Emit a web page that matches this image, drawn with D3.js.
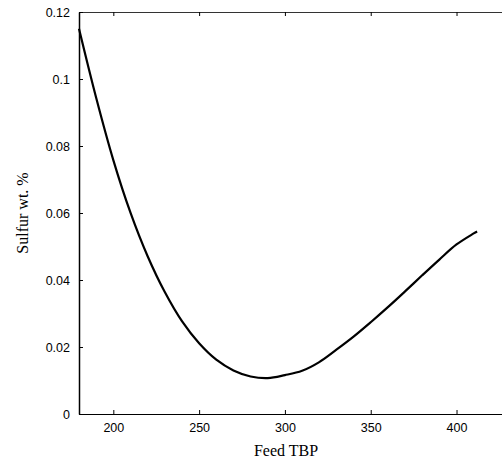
<!DOCTYPE html>
<html>
<head>
<meta charset="utf-8">
<script src="https://cdn.jsdelivr.net/npm/d3@7"></script>
<style>
  body { margin: 0; background: #fff; }
  svg { display: block; }
</style>
</head>
<body>
<div id="chart"></div>
<script>
// Feed TBP vs sulfur content
var feedTBP = [180, 190, 200, 210, 220, 230, 240, 250, 260, 270, 280, 290,
               300, 310, 320, 330, 340, 350, 360, 370, 380, 390, 400, 410, 412];
var sulfur = [0.1150, 0.0944, 0.0758, 0.0601, 0.0471, 0.0364, 0.0277, 0.0211,
              0.0162, 0.0130, 0.0112, 0.0107, 0.0116, 0.0129, 0.0155, 0.0192,
              0.0231, 0.0274, 0.0319, 0.0366, 0.0414, 0.0461, 0.0506, 0.0539, 0.0545];
var xTicks = [200, 250, 300, 350, 400];
var yTicks = [0, 0.02, 0.04, 0.06, 0.08, 0.1, 0.12];

var W = 502, H = 463;
var plotLeft = 79, plotTop = 12, plotBottom = 414;

var x = d3.scaleLinear().domain([180, 430]).range([plotLeft, plotLeft + 250 * 1.716]);
var y = d3.scaleLinear().domain([0, 0.12]).range([plotBottom, plotTop]);

var svg = d3.select('#chart').append('svg')
    .attr('width', W)
    .attr('height', H);

var tickFont = 'Liberation Sans, Arial, sans-serif';

// bottom axis (ticks inward)
var gx = svg.append('g')
    .attr('transform', 'translate(0,' + plotBottom + ')')
    .call(d3.axisBottom(x).tickValues(xTicks).tickSizeInner(-4).tickSizeOuter(0).tickPadding(9));
gx.select('.domain').attr('stroke', '#000');

// top axis, no labels
var gt = svg.append('g')
    .attr('transform', 'translate(0,' + plotTop + ')')
    .call(d3.axisTop(x).tickValues(xTicks).tickSizeInner(-4).tickSizeOuter(0).tickFormat(''));
gt.select('.domain').attr('stroke', '#333');

// left axis
var gy = svg.append('g')
    .attr('transform', 'translate(' + plotLeft + ',0)')
    .call(d3.axisLeft(y).tickValues(yTicks).tickSizeInner(-4).tickSizeOuter(0).tickPadding(9)
        .tickFormat(function(d) { return d === 0 ? '0' : String(+d.toFixed(2)); }));
gy.select('.domain').attr('stroke', '#000').attr('stroke-width', 1.5);

svg.selectAll('.tick text')
    .style('font-family', tickFont)
    .style('font-size', '12.5px')
    .attr('fill', '#000');
svg.selectAll('.tick line').attr('stroke', '#000');

// curve
var line = d3.line()
    .x(function(d, i) { return x(feedTBP[i]); })
    .y(function(d) { return y(d); })
    .curve(d3.curveCatmullRom);

svg.append('path')
    .datum(sulfur)
    .attr('d', line)
    .attr('fill', 'none')
    .attr('stroke', '#000')
    .attr('stroke-width', 2.2)
    .attr('stroke-linejoin', 'round');

// axis labels
svg.append('text')
    .attr('x', 286)
    .attr('y', 456)
    .attr('text-anchor', 'middle')
    .style('font-family', 'Liberation Serif, Times New Roman, serif')
    .style('font-size', '16px')
    .text('Feed TBP');

svg.append('text')
    .attr('transform', 'translate(28,' + 213 + ') rotate(-90)')
    .attr('text-anchor', 'middle')
    .style('font-family', 'Liberation Serif, Times New Roman, serif')
    .style('font-size', '16px')
    .text('Sulfur wt. %');
</script>
</body>
</html>
